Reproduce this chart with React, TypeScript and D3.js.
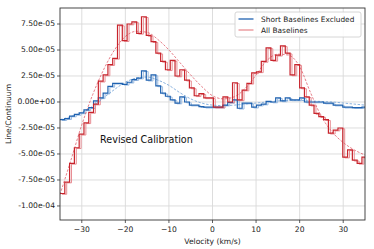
import React from 'react'
import * as d3 from 'd3'

const width = 374
const height = 249
const margin = { left: 60, top: 8, right: 9, bottom: 29 }

// channel grid (km/s)
const chanStart = -35
const chanWidth = 1.1

// step spectra, units of 1e-5
const allBaselines = [
  -8.8, -7.7, -5.9, -4.4, -3.1, -2.0, -1.0, -0.2, 2.0, 2.6, 3.6, 4.2, 7.4, 5.9, 7.5, 7.7,
  6.6, 8.2, 6.4, 5.8, 4.7, 3.9, 3.1, 4.0, 2.5, 3.1, 2.1, 1.35, 0.6, 0.8, 0.4, 0.4,
  -0.5, -0.5, 0.5, 0.0, 1.85, 0.2, 1.15, 1.8, 2.8, 2.9, 3.9, 5.2, 4.0, 4.5, 5.4, 4.7,
  2.6, 3.6, 1.35, 0.5, -0.3, -1.1, -1.4, -1.7, -3.0, -2.7, -2.5, -5.3, -4.6, -5.6, -5.9, -5.3,
]
const shortExcluded = [
  -1.7, -1.6, -1.35, -1.2, -1.05, -0.75, -0.55, 0.1, 0.4, 0.85, 1.5, 1.8, 1.8, 1.7, 1.9, 2.15,
  2.3, 3.0, 2.1, 2.6, 1.55, 0.85, 0.55, 0.2, -0.1, 0.5, 0.0, -0.3, -0.3, -0.45, -0.5, -0.5,
  -0.5, -0.5, -0.3, -0.05, 0.2, -0.6, -0.1, -0.1, -0.5, -0.3, -0.2, 0.05, 0.0, 0.4, 0.1, 0.4,
  0.2, 0.2, 0.4, 0.0, 0.0, 0.0, 0.0, -0.1, -0.1, -0.3, -0.3, -0.5, -0.5, -0.55, -0.55, -0.5,
]

// fitted profiles
const fitVel = [
  -35, -32.5, -30, -27.5, -25, -22.5, -20, -17.5, -15, -12.5, -10, -7.5, -5, -2.5, 0,
  2.5, 5, 7.5, 10, 12.5, 15, 17.5, 20, 22.5, 25, 27.5, 30, 32.5, 35,
]
const fitAll = [
  -8.9, -5.6, -2.2, 0.7, 3.1, 5.0, 6.3, 6.8, 6.7, 6.0, 5.0, 3.8, 2.6, 1.5, 0.6,
  0.3, 0.5, 1.3, 2.6, 4.0, 4.6, 4.5, 3.4, 0.9, -1.4, -2.9, -3.9, -4.6, -5.1,
]
const fitShort = [
  -1.7, -1.4, -1.0, -0.4, 0.4, 1.2, 1.9, 2.3, 2.4, 2.1, 1.6, 0.9, 0.3, -0.1, -0.3,
  -0.35, -0.3, -0.2, -0.1, 0.0, 0.1, 0.15, 0.15, 0.1, 0.05, 0.0, -0.1, -0.2, -0.3,
]

const xTicks = [-30, -20, -10, 0, 10, 20, 30]
const yTicks = [7.5, 5, 2.5, 0, -2.5, -5, -7.5, -10]
const yTickLabels = ['7.50e-05', '5.00e-05', '2.50e-05', '0.00e+00', '-2.50e-05', '-5.00e-05', '-7.50e-05', '-1.00e-04']

const legendNames = ['Short Baselines Excluded', 'All Baselines']

const blue = '#1f62b0'
const blueLight = '#9dbde2'
const red = '#c8242c'
const redLight = '#e88e94'
const font = 'DejaVu Sans, sans-serif'

export default function App() {
  const innerW = width - margin.left - margin.right
  const innerH = height - margin.top - margin.bottom

  const x = d3.scaleLinear().domain([-35, 35]).range([0, innerW])
  const y = d3.scaleLinear().domain([-11.35, 9.04]).range([innerH, 0])

  const stepPts = (vals: number[]) => {
    const pts = vals.map((v, i) => [chanStart + i * chanWidth, v] as [number, number])
    pts.push([chanStart + vals.length * chanWidth, vals[vals.length - 1]])
    return pts
  }
  const step = d3
    .line<[number, number]>()
    .x((d) => x(d[0]))
    .y((d) => y(d[1]))
    .curve(d3.curveStepAfter)
  const smooth = d3
    .line<number>()
    .x((_, i) => x(fitVel[i]))
    .y((d) => y(d))
    .curve(d3.curveMonotoneX)

  const shift = x(chanStart + chanWidth * 0.4) - x(chanStart)

  return (
    <svg width={width} height={height} style={{ position: 'absolute', left: 0, top: 0, background: 'white' }}>
      <defs>
        <clipPath id="plot">
          <rect x={0} y={0} width={innerW} height={innerH} />
        </clipPath>
      </defs>
      <g transform={`translate(${margin.left},${margin.top})`}>
        {xTicks.map((t) => (
          <line key={'gx' + t} x1={x(t)} x2={x(t)} y1={0} y2={innerH} stroke="#d9d9d9" strokeWidth={0.9} />
        ))}
        {yTicks.map((t) => (
          <line key={'gy' + t} x1={0} x2={innerW} y1={y(t)} y2={y(t)} stroke="#d9d9d9" strokeWidth={0.9} />
        ))}
        <g clipPath="url(#plot)">
          <path d={step(stepPts(shortExcluded)) || ''} fill="none" stroke={blueLight} strokeWidth={1} transform={`translate(${shift},0.8)`} />
          <path d={step(stepPts(allBaselines)) || ''} fill="none" stroke={redLight} strokeWidth={1} transform={`translate(${shift},0.8)`} />
          <path d={smooth(fitShort) || ''} fill="none" stroke="#6d9fd6" strokeWidth={0.8} strokeDasharray="2.5,1.5" />
          <path d={smooth(fitAll) || ''} fill="none" stroke="#e0606c" strokeWidth={0.8} strokeDasharray="2.5,1.5" />
          <path d={step(stepPts(shortExcluded)) || ''} fill="none" stroke={blue} strokeWidth={1.2} />
          <path d={step(stepPts(allBaselines)) || ''} fill="none" stroke={red} strokeWidth={1.2} />
        </g>
        <rect x={0} y={0} width={innerW} height={innerH} fill="none" stroke="#333" strokeWidth={0.9} />
        {xTicks.map((t) => (
          <g key={'tx' + t} transform={`translate(${x(t)},${innerH})`}>
            <line y1={0} y2={3} stroke="#333" strokeWidth={0.8} />
            <text y={11.5} textAnchor="middle" fontFamily={font} fontSize={7.6} fill="#222">
              {t < 0 ? '\u2212' + Math.abs(t) : t}
            </text>
          </g>
        ))}
        {yTicks.map((t, i) => (
          <g key={'ty' + t} transform={`translate(0,${y(t)})`}>
            <line x1={-3} x2={0} stroke="#333" strokeWidth={0.8} />
            <text x={-5} dy="0.32em" textAnchor="end" fontFamily={font} fontSize={7.6} fill="#222">
              {yTickLabels[i]}
            </text>
          </g>
        ))}
        <text x={x(0)} y={innerH + 24} textAnchor="middle" fontFamily={font} fontSize={7.6} fill="#222">
          Velocity (km/s)
        </text>
        <text
          transform={`translate(${-margin.left + 11},${innerH / 2}) rotate(-90)`}
          textAnchor="middle"
          fontFamily={font}
          fontSize={7.6}
          fill="#222"
        >
          Line/Continuum
        </text>
        <text x={x(-25.8)} y={y(-3.9)} fontFamily={font} fontSize={9.6} fill="#111">
          Revised Calibration
        </text>
        <g transform={`translate(${innerW - 130},4)`}>
          <rect x={0} y={0} width={126} height={25} rx={2} fill="white" fillOpacity={0.85} stroke="#ccc" strokeWidth={0.8} />
          {legendNames.map((name, i) => (
            <g key={name} transform={`translate(0,${7 + i * 11})`}>
              <line x1={3.5} x2={18.5} stroke={i === 0 ? blue : redLight} strokeWidth={1.3} />
              <text x={26} dy="0.34em" fontFamily={font} fontSize={7.4} fill="#222">
                {name}
              </text>
            </g>
          ))}
        </g>
      </g>
    </svg>
  )
}
